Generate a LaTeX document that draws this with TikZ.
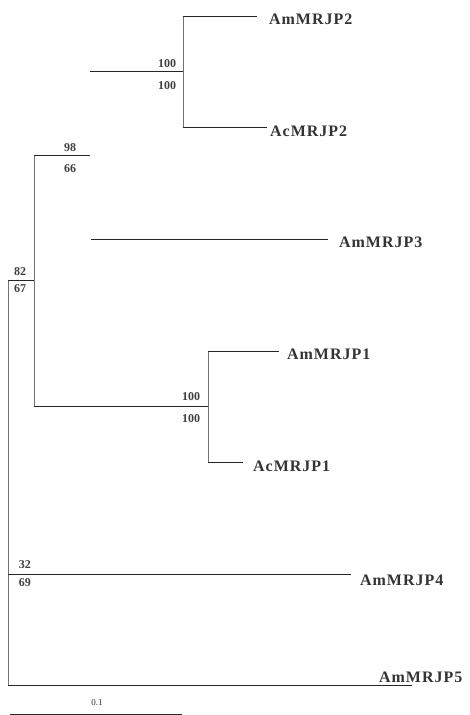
\documentclass[tikz,border=0pt]{standalone}
\usepackage{fontspec}
\setmainfont{Liberation Serif}
\begin{document}
\begin{tikzpicture}[x=1pt,y=-1pt,
  br/.style={draw=black!85,line width=0.9pt},
  vr/.style={draw=black!55,line width=0.8pt},
  leaf/.style={anchor=west,inner sep=0pt,font=\fontsize{16}{16}\selectfont\bfseries\addfontfeature{LetterSpace=6},text=black!80},
  boot/.style={inner sep=0pt,font=\fontsize{12}{12}\selectfont\bfseries,text=black!75},
  scal/.style={inner sep=0pt,font=\fontsize{9}{9}\selectfont,text=black!80}]
\useasboundingbox (0,0) rectangle (469,715);
% internal points
\coordinate (R) at (8,280);
\coordinate (Rb) at (8,685);
\coordinate (Rm) at (8,574);
\coordinate (N1) at (34,280);
\coordinate (N1t) at (34,155);
\coordinate (N1b) at (34,406);
\coordinate (N2) at (90,155);
\coordinate (N2t) at (90,71);
\coordinate (N2b) at (91,239);
\coordinate (N3) at (183,71);
\coordinate (N3t) at (183,16);
\coordinate (N3b) at (183,127);
\coordinate (N4) at (208,406);
\coordinate (N4t) at (208,351);
\coordinate (N4b) at (208,462);
% leaf ends
\coordinate (e2) at (257,16);
\coordinate (ec2) at (267,127);
\coordinate (e3) at (328,239);
\coordinate (e1) at (279,351);
\coordinate (ec1) at (243,462);
\coordinate (e4) at (351,574);
\coordinate (e5) at (412,685);
% leaf labels
\node[leaf] (AmMRJP2) at (269,19) {AmMRJP2};
\node[leaf] (AcMRJP2) at (270,131) {AcMRJP2};
\node[leaf] (AmMRJP3) at (339,242) {AmMRJP3};
\node[leaf] (AmMRJP1) at (287,354) {AmMRJP1};
\node[leaf] (AcMRJP1) at (253,466) {AcMRJP1};
\node[leaf] (AmMRJP4) at (360,580) {AmMRJP4};
\node[leaf] (AmMRJP5) at (379,677) {AmMRJP5};
% branches
\draw[vr] (R) -- (Rb);
\draw[br] (R) -- (N1);
\draw[vr] (N1t) -- (N1b);
\draw[br] (N1t) -- (N2);
\draw[br] (N2t) -- (N3);
\draw[vr] (N3t) -- (N3b);
\draw[br] (N3t) -- (e2);
\draw[br] (N3b) -- (ec2);
\draw[br] (N2b) -- (e3);
\draw[br] (N1b) -- (N4);
\draw[vr] (N4t) -- (N4b);
\draw[br] (N4t) -- (e1);
\draw[br] (N4b) -- (ec1);
\draw[br] (Rm) -- (e4);
\draw[br] (Rb) -- (e5);
% bootstrap values
\node[boot] (b1) at (167,64) {100};
\node[boot] (b2) at (167,86) {100};
\node[boot] (b3) at (70,148) {98};
\node[boot] (b4) at (70,169) {66};
\node[boot] (b5) at (20,272) {82};
\node[boot] (b6) at (20,289) {67};
\node[boot] (b7) at (191,397) {100};
\node[boot] (b8) at (191,419) {100};
\node[boot] (b9) at (25,565) {32};
\node[boot] (b10) at (25,583) {69};
% scale bar
\coordinate (s1) at (10,714);
\coordinate (s2) at (182,714);
\draw[br] (s1) -- (s2);
\node[scal] (sl) at (97,703) {0.1};
\end{tikzpicture}
\end{document}
